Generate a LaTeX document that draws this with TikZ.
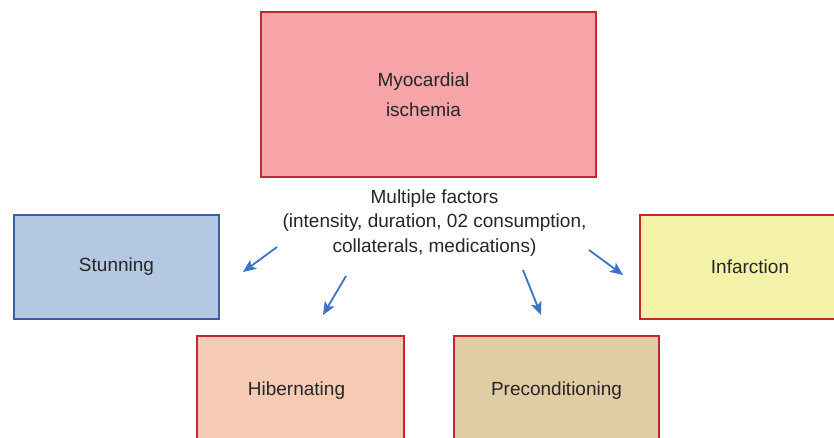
\documentclass[tikz,border=0pt]{standalone}
\usepackage{fontspec}
\setmainfont{Liberation Sans}
\usetikzlibrary{positioning}
\usetikzlibrary{arrows.meta}
\definecolor{boxred}{RGB}{192,40,45}
\definecolor{boxblue}{RGB}{58,94,160}
\definecolor{arrowblue}{RGB}{61,114,196}
\definecolor{ischfill}{RGB}{246,164,168}
\definecolor{stunfill}{RGB}{180,199,227}
\definecolor{infarfill}{RGB}{243,242,168}
\definecolor{hibfill}{RGB}{245,203,180}
\definecolor{precfill}{RGB}{224,205,165}

\begin{document}
\begin{tikzpicture}[
            x = 1pt, y = -1pt,
            > = {Stealth[length=13pt, width=11pt, inset=3pt]}, % arrow head style
            semithick % line style
        ]

        \tikzstyle{every node}=[
            font = \fontsize{19}{24.5}\selectfont,
            text = black!85
        ]
        \tikzstyle{condition}=[
            draw = boxred,
            line width = 1.8pt,
            align = center,
            inner sep = 0pt
        ]
        \tikzstyle{outcome}=[
            ->,
            draw = arrowblue,
            line width = 1.8pt
        ]

        \useasboundingbox (0,0) rectangle (834,438);
        \clip (0,0) rectangle (834,438);

	% cause
        \node[condition, fill = ischfill, minimum width = 335pt, minimum height = 165pt, font = \fontsize{19}{30}\selectfont] (ISCH) at (428.5,94.5) {Myocardial\hspace*{10pt}\\ischemia\hspace*{10pt}};
        \node[align = center] (FACT) [below = 8pt of ISCH, xshift = 6pt] {Multiple factors\\(intensity, duration, 02 consumption,\\collaterals, medications)};

	% outcomes
        \node[condition, draw = boxblue, fill = stunfill, minimum width = 205pt, minimum height = 104pt] (STUN) at (116.5,267) {Stunning};
        \node[condition, fill = infarfill, minimum width = 220pt, minimum height = 104pt] (INFAR) at (750,267) {Infarction};
        \node[condition, fill = hibfill, minimum width = 207pt, minimum height = 110pt] (HIB) at (300.5,391) {Hibernating\hspace*{8pt}};
        \node[condition, fill = precfill, minimum width = 205pt, minimum height = 110pt] (PREC) at (556.5,391) {Preconditioning};

         % arrows
         \coordinate (S1) at (277,247); \coordinate (S2) at (243,272);
         \coordinate (H1) at (346,276); \coordinate (H2) at (323,315);
         \coordinate (P1) at (523,270); \coordinate (P2) at (541,315);
         \coordinate (I1) at (589,250); \coordinate (I2) at (623,275);

         \draw[outcome] (S1) -- (S2);
         \draw[outcome] (H1) -- (H2);
         \draw[outcome] (P1) -- (P2);
         \draw[outcome] (I1) -- (I2);

  \end{tikzpicture}
\end{document}
